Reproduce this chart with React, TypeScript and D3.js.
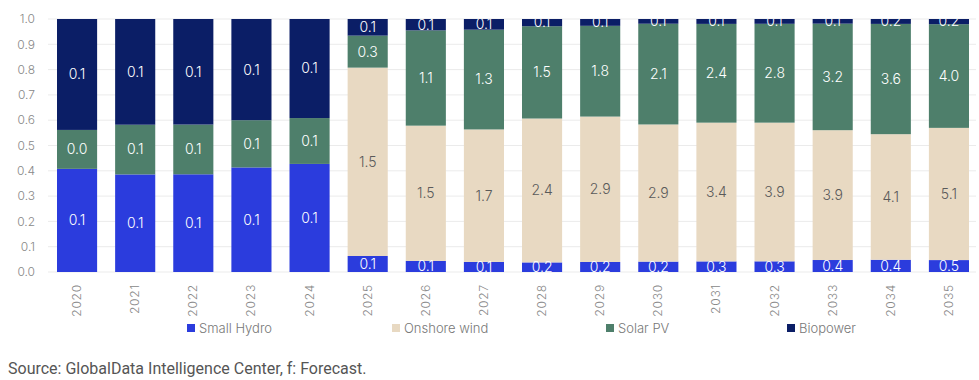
import React from "react";
import * as d3 from "d3";

const years = ["2020","2021","2022","2023","2024","2025","2026","2027","2028","2029","2030","2031","2032","2033","2034","2035"];
const smallHydro = [0.106, 0.108, 0.112, 0.124, 0.132, 0.13, 0.124, 0.129, 0.16, 0.2, 0.22, 0.26, 0.3, 0.36, 0.4, 0.46];
const onshoreWind = [0, 0, 0, 0, 0, 1.53, 1.52, 1.7, 2.4, 2.9, 2.9, 3.4, 3.9, 3.9, 4.1, 5.1];
const solarPV = [0.04, 0.055, 0.057, 0.056, 0.056, 0.26, 1.07, 1.28, 1.54, 1.81, 2.13, 2.42, 2.78, 3.2, 3.6, 4.0];
const biopower = [0.114, 0.117, 0.121, 0.12, 0.121, 0.135, 0.128, 0.137, 0.12, 0.136, 0.1, 0.12, 0.135, 0.14, 0.16, 0.2];
const seriesNames = ["Small Hydro", "Onshore wind", "Solar PV", "Biopower"];
const yTicks = [0, 0.1, 0.2, 0.3, 0.4, 0.5, 0.6, 0.7, 0.8, 0.9, 1.0];

const colors = ["#2B3CDD", "#E8D9C2", "#4E7F6B", "#0B1E66"];
const textColors = ["#ffffff", "#5a5a5a", "#ffffff", "#ffffff"];
const legendX = [187, 392, 606, 787];

export default function App() {
  const W = 979, H = 380;
  const top = 19, bottom = 272;
  const x = d3.scaleBand<string>().domain(years).range([48, 978]).paddingInner(0.31).paddingOuter(0.155);
  const y = d3.scaleLinear().domain([0, 1]).range([bottom, top]);
  const seriesData = [smallHydro, onshoreWind, solarPV, biopower];
  const rows = years.map((yr, i) => {
    const r: any = { year: yr };
    seriesNames.forEach((s, k) => (r[s] = seriesData[k][i]));
    return r;
  });
  const stacked = d3.stack<any>().keys(seriesNames).offset(d3.stackOffsetExpand)(rows);
  const font = "Inter, 'Open Sans', sans-serif";

  return (
    <svg width={W} height={H} style={{ position: "absolute", left: 0, top: 0, background: "#fff" }}>
      <defs>
        <clipPath id="plotClip">
          <rect x={0} y={top} width={W} height={bottom - top} />
        </clipPath>
      </defs>
      {yTicks.map((t) => (
        <g key={t}>
          <line x1={48} x2={976} y1={y(t)} y2={y(t)} stroke="#ebebeb" strokeWidth={1} />
          <text x={35} y={y(t)} dy="0.35em" textAnchor="end" fontFamily={font} fontWeight={300} fontSize={12} fill="#888">
            {t.toFixed(1)}
          </text>
        </g>
      ))}
      <g clipPath="url(#plotClip)">
        {stacked.map((layer, k) => (
          <g key={layer.key}>
            {layer.map((d, i) => {
              const v = seriesData[k][i];
              if (v <= 0) return null;
              return (
                <rect key={i} x={x(years[i])} width={x.bandwidth()} y={y(d[1])} height={y(d[0]) - y(d[1])} fill={colors[k]} />
              );
            })}
          </g>
        ))}
        {stacked.map((layer, k) => (
          <g key={"l" + layer.key}>
            {layer.map((d, i) => {
              const v = seriesData[k][i];
              if (v <= 0 && k === 1) return null;
              return (
                <text key={i} x={(x(years[i]) as number) + x.bandwidth() / 2} y={(y(d[0]) + y(d[1])) / 2} dy="0.35em"
                  textAnchor="middle" fontFamily={font} fontWeight={300} fontSize={14} fill={textColors[k]}>
                  {v.toFixed(1)}
                </text>
              );
            })}
          </g>
        ))}
      </g>
      {years.map((yr) => {
        const cx = (x(yr) as number) + x.bandwidth() / 2;
        return (
          <text key={yr} transform={`translate(${cx + 4},284) rotate(-90)`} textAnchor="end" fontFamily={font} fontWeight={300}
            fontSize={12} letterSpacing={0.8} fill="#888">
            {yr}
          </text>
        );
      })}
      {seriesNames.map((s, k) => (
        <g key={s}>
          <rect x={legendX[k]} y={324} width={8} height={8} fill={colors[k]} />
          <text x={legendX[k] + 12} y={328} dy="0.35em" fontFamily={font} fontWeight={300} fontSize={13} fill="#777">
            {s}
          </text>
        </g>
      ))}
      <text x={8} y={374} fontFamily="Roboto, sans-serif" fontSize={16} fill="#555">
        Source: GlobalData Intelligence Center, f: Forecast.
      </text>
    </svg>
  );
}
